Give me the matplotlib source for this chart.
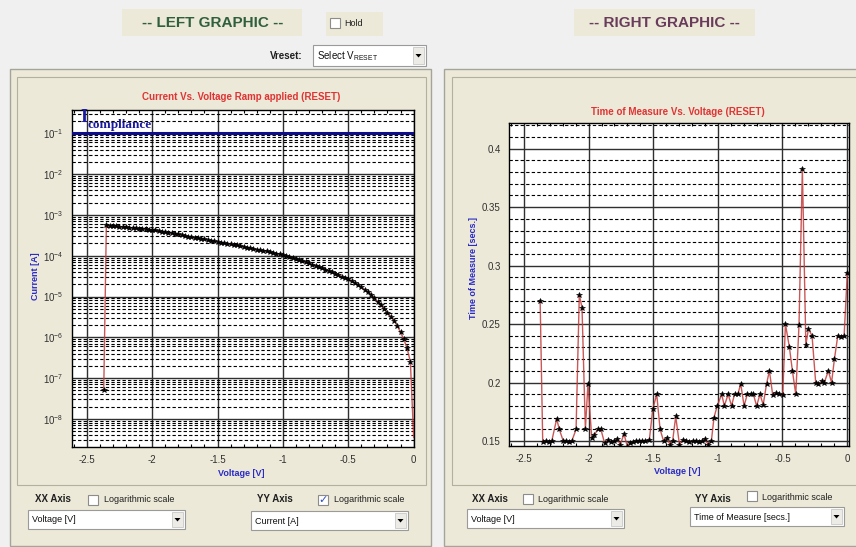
import matplotlib
matplotlib.use('Agg')
import matplotlib.pyplot as plt
from matplotlib.patches import Rectangle, Polygon
from matplotlib.ticker import MultipleLocator, FixedLocator, NullFormatter
import numpy as np

W, H = 856, 547

# --- left graphic: current vs voltage (log y) ---
iv_voltage = [-2.37,
    -2.35, -2.325, -2.3, -2.275, -2.25, -2.225, -2.2, -2.175, -2.15, -2.125, -2.1, -2.075, -2.05, -2.025, -2.0,
    -1.975, -1.95, -1.925, -1.9, -1.875, -1.85, -1.825, -1.8, -1.775, -1.75,
    -1.725, -1.7, -1.675, -1.65, -1.625, -1.6, -1.575, -1.55, -1.525, -1.5,
    -1.475, -1.45, -1.425, -1.4, -1.375, -1.35, -1.325, -1.3, -1.275, -1.25,
    -1.225, -1.2, -1.175, -1.15, -1.125, -1.1, -1.075, -1.05, -1.025, -1.0,
    -0.975, -0.95, -0.925, -0.9, -0.875, -0.85, -0.825, -0.8, -0.775, -0.75,
    -0.725, -0.7, -0.675, -0.65, -0.625, -0.6, -0.575, -0.55, -0.525, -0.5,
    -0.475, -0.45, -0.425, -0.4, -0.375, -0.35, -0.325, -0.3, -0.275, -0.25,
    -0.225, -0.2, -0.175, -0.15, -0.125, -0.1, -0.075, -0.05, -0.025,
    0.0]
iv_log_current = [-7.29,
    -3.26, -3.27, -3.27, -3.28, -3.29, -3.30, -3.30, -3.31, -3.32, -3.33, -3.34, -3.35, -3.35, -3.36, -3.37,
    -3.38, -3.40, -3.41, -3.42, -3.44, -3.45, -3.47, -3.48, -3.50, -3.51,
    -3.53, -3.54, -3.56, -3.57, -3.59, -3.60, -3.62, -3.63, -3.65, -3.66,
    -3.68, -3.69, -3.71, -3.72, -3.74, -3.75, -3.77, -3.78, -3.80, -3.81,
    -3.83, -3.85, -3.86, -3.88, -3.89, -3.91, -3.93, -3.95, -3.96, -3.98,
    -4.00, -4.03, -4.05, -4.08, -4.11, -4.14, -4.16, -4.19, -4.22, -4.25,
    -4.28, -4.31, -4.34, -4.37, -4.40, -4.44, -4.47, -4.51, -4.54, -4.58,
    -4.62, -4.67, -4.72, -4.77, -4.83, -4.89, -4.96, -5.04, -5.13, -5.22,
    -5.31, -5.40, -5.49, -5.59, -5.72, -5.88, -6.05, -6.27, -6.60,
    -8.45]
i_compliance = 1e-1
iv_yticks = [1e-1, 1e-2, 1e-3, 1e-4, 1e-5, 1e-6, 1e-7, 1e-8]
iv_ylabels = [r'$\mathregular{10^{-%d}}$' % k for k in range(1, 9)]

# --- right graphic: time of measure vs voltage ---
tm_voltage = [-2.375, -2.355, -2.33, -2.31, -2.285, -2.247, -2.227, -2.196, -2.175, -2.155,
    -2.13, -2.097, -2.072, -2.051, -2.025, -2.005, -1.976, -1.955, -1.93, -1.905,
    -1.876, -1.85, -1.825, -1.8, -1.778, -1.755, -1.726, -1.7, -1.68, -1.66,
    -1.635, -1.61, -1.585, -1.56, -1.53, -1.504, -1.473, -1.447, -1.42, -1.396,
    -1.37, -1.35, -1.326, -1.297, -1.27, -1.245, -1.22, -1.195, -1.17, -1.145,
    -1.12, -1.1, -1.075, -1.05, -1.03, -1.005, -0.97, -0.95, -0.92, -0.894,
    -0.871, -0.845, -0.823, -0.797, -0.772, -0.746, -0.725, -0.7, -0.674, -0.649,
    -0.623, -0.601, -0.575, -0.549, -0.523, -0.498, -0.477, -0.446, -0.423, -0.397,
    -0.372, -0.346, -0.319, -0.299, -0.271, -0.243, -0.222, -0.197, -0.176, -0.145,
    -0.12, -0.098, -0.072, -0.049, -0.023, 0.002]
tm_seconds = [0.270, 0.149, 0.150, 0.149, 0.150, 0.169, 0.160, 0.150, 0.150, 0.149,
    0.150, 0.160, 0.275, 0.264, 0.160, 0.199, 0.153, 0.155, 0.160, 0.160,
    0.148, 0.151, 0.149, 0.150, 0.152, 0.147, 0.156, 0.145, 0.148, 0.149,
    0.150, 0.150, 0.150, 0.150, 0.151, 0.177, 0.190, 0.160, 0.150, 0.153,
    0.147, 0.150, 0.171, 0.147, 0.151, 0.150, 0.149, 0.150, 0.150, 0.149,
    0.150, 0.152, 0.147, 0.150, 0.170, 0.180, 0.190, 0.180, 0.190, 0.180,
    0.190, 0.190, 0.199, 0.180, 0.190, 0.190, 0.190, 0.180, 0.190, 0.181,
    0.199, 0.210, 0.189, 0.191, 0.190, 0.189, 0.250, 0.230, 0.210, 0.190,
    0.249, 0.383, 0.232, 0.246, 0.240, 0.200, 0.199, 0.201, 0.200, 0.210,
    0.200, 0.220, 0.240, 0.239, 0.240, 0.294]
tm_yticks = [0.15, 0.2, 0.25, 0.3, 0.35, 0.4]

x_ticks = [-2.5, -2, -1.5, -1, -0.5, 0]
x_labels = ['-2.5', '-2', '-1.5', '-1', '-0.5', '0']

FONT = 'Liberation Sans'
plt.rcParams['mathtext.fontset'] = 'custom'
plt.rcParams['mathtext.rm'] = FONT
BEIGE = '#ece9d8'
LINE_RED = '#c23a3a'
LABEL_BLUE = '#2a2ac8'

fig = plt.figure(figsize=(W / 100, H / 100), dpi=100, facecolor='#f0f0f0')


def fx(x):
    return x / W


def fy(y):
    return 1 - y / H


def box(x, y, w, h, fc, ec='none', lw=0.8, z=-5):
    fig.add_artist(Rectangle((fx(x), fy(y + h)), w / W, h / H, transform=fig.transFigure,
                             facecolor=fc, edgecolor=ec, linewidth=lw, zorder=z))


def text(x, y, s, **kw):
    kw.setdefault('family', FONT)
    kw.setdefault('va', 'center')
    fig.text(fx(x), fy(y), s, **kw)


def checkbox(x, y, checked=False):
    box(x, y, 10, 10, 'white', '#8c8c8c', 0.8, z=2)
    if checked:
        text(x + 5, y + 5.5, '\u2713', family='DejaVu Sans', size=8, color='#3050c0',
             ha='center', weight='bold')


def dropdown(x, y, w, h, label, **kw):
    box(x, y, w, h, 'white', '#9a9a9a', 0.8, z=2)
    box(x + w - 13, y + 2, 11, h - 4, '#ecebe6', '#c8c8c8', 0.6, z=3)
    cx, cy = x + w - 7.5, y + h / 2
    fig.add_artist(Polygon([(fx(cx - 3), fy(cy - 1.5)), (fx(cx + 3), fy(cy - 1.5)),
                            (fx(cx), fy(cy + 2))], closed=True, transform=fig.transFigure,
                           facecolor='black', edgecolor='none', zorder=4))
    kw.setdefault('size', 6.5)
    text(x + 4, y + h / 2 + 0.5, label, color='#101010', **kw)


# panels
box(10, 69, 421, 477, BEIGE, '#a4a49a', 1.0)
box(17, 77, 409, 408, 'none', '#b4b0a0', 0.8, z=-4)
box(444, 69, 420, 477, BEIGE, '#a4a49a', 1.0)
box(452, 77, 410, 408, 'none', '#b4b0a0', 0.8, z=-4)

# header
box(122, 9, 180, 27, BEIGE)
text(213, 23, '-- LEFT GRAPHIC --', size=11, weight='bold', color='#2f5f3c', ha='center')
box(326, 12, 57, 24, BEIGE)
checkbox(330, 18)
text(344, 23.5, 'Hold', size=6.5, color='#202020')
box(574, 9, 181, 27, BEIGE)
text(664, 23, '-- RIGHT GRAPHIC --', size=11, weight='bold', color='#6a3c5c', ha='center')
text(303, 56, 'Vreset:', size=7, weight='bold', ha='right', color='#202020')
dropdown(313, 45, 113, 21, r'Select V$_\mathregular{RESET}$', size=7)

# bottom controls
text(35, 499, 'XX Axis', size=7, weight='bold', color='#202020')
checkbox(88, 495)
text(104, 500, 'Logarithmic scale', size=6.5, color='#202020')
dropdown(28, 510, 157, 19, 'Voltage [V]')
text(257, 499, 'YY Axis', size=7, weight='bold', color='#202020')
checkbox(318, 495, checked=True)
text(334, 500, 'Logarithmic scale', size=6.5, color='#202020')
dropdown(251, 511, 157, 19, 'Current [A]')

text(472, 499, 'XX Axis', size=7, weight='bold', color='#202020')
checkbox(523, 494)
text(538, 499, 'Logarithmic scale', size=6.5, color='#202020')
dropdown(467, 509, 157, 19, 'Voltage [V]')
text(695, 499, 'YY Axis', size=7, weight='bold', color='#202020')
checkbox(747, 491)
text(762, 497, 'Logarithmic scale', size=6.5, color='#202020')
dropdown(690, 507, 154, 19, 'Time of Measure [secs.]')


def style_axes(ax):
    ax.set_facecolor('white')
    for s in ax.spines.values():
        s.set_color('black')
        s.set_linewidth(1.0)
    ax.set_axisbelow(True)
    ax.set_xticks(x_ticks)
    ax.set_xticklabels(x_labels)
    ax.xaxis.set_minor_locator(MultipleLocator(0.1))
    ax.tick_params(which='major', length=0, labelsize=7, labelcolor='#303030', pad=6)
    ax.tick_params(axis='x', which='minor', direction='in', top=True, bottom=True, length=2.5,
                   width=0.8, color='black')
    ax.tick_params(axis='y', which='minor', length=0)
    for lab in ax.get_xticklabels() + ax.get_yticklabels():
        lab.set_family(FONT)
    ax.grid(True, axis='x', which='major', color='#303030', lw=1.0, ls='-')
    ax.grid(True, axis='y', which='major', color='#303030', lw=1.0, ls='-')
    ax.grid(True, axis='y', which='minor', color='black', lw=0.8, ls=(0, (3, 2)))


# left axes
ax1 = fig.add_axes([fx(71.7), fy(446.7), (414.3 - 71.7) / W, (446.7 - 110) / H])
iv_current = 10 ** np.array(iv_log_current)
ax1.set_yscale('log')
ax1.set_xlim(-2.615, 0.005)
ax1.plot(iv_voltage, iv_current, color=LINE_RED, lw=1.0, alpha=0.85, zorder=3)
ax1.plot(iv_voltage[:-1], iv_current[:-1], ls='none', marker='*', ms=3.8, color='black',
         mec='black', mew=0.4, zorder=4)
ax1.axhline(i_compliance, color='#0c0c8c', lw=2.2, zorder=5)
ax1.yaxis.set_major_locator(FixedLocator(iv_yticks))
ax1.set_yticklabels(iv_ylabels)
minor = [m * 10.0 ** e for e in range(-9, 0) for m in range(2, 10)]
ax1.yaxis.set_minor_locator(FixedLocator(minor))
ax1.yaxis.set_minor_formatter(NullFormatter())
style_axes(ax1)
ax1.set_ylim(10 ** -8.68, 10 ** -0.43)
text(80, 117, 'I', family='Liberation Serif', size=13, weight='bold', color='#1a1a9c')
text(87, 125, 'compliance', family='Liberation Serif', size=9.5, weight='bold', color='#1a1a9c')
text(241, 97, 'Current Vs. Voltage Ramp applied (RESET)', size=7, weight='bold',
     color='#e03434', ha='center')
text(241, 473, 'Voltage [V]', size=6.5, weight='bold', color=LABEL_BLUE, ha='center')
text(36, 276, 'Current [A]', size=6.5, weight='bold', color=LABEL_BLUE, ha='center',
     rotation=90)

# right axes
ax2 = fig.add_axes([fx(509), fy(445.7), (848.5 - 509) / W, (445.7 - 123.3) / H])
ax2.set_xlim(-2.616, 0.011)
ax2.set_ylim(0.146, 0.4217)
ax2.plot(tm_voltage, tm_seconds, color=LINE_RED, lw=1.0, alpha=0.85, zorder=3)
ax2.plot(tm_voltage, tm_seconds, ls='none', marker='*', ms=3.8, color='black',
         mec='black', mew=0.4, zorder=4)
ax2.set_yticks(tm_yticks)
ax2.set_yticklabels(['%g' % v for v in tm_yticks])
ax2.yaxis.set_minor_locator(MultipleLocator(0.01))
style_axes(ax2)
text(678, 112, 'Time of Measure Vs. Voltage (RESET)', size=7, weight='bold',
     color='#e03434', ha='center')
text(677, 472, 'Voltage [V]', size=6.5, weight='bold', color=LABEL_BLUE, ha='center')
text(473, 268, 'Time of Measure [secs.]', size=6.5, weight='bold', color=LABEL_BLUE,
     ha='center', rotation=90)

fig.savefig('out.png', dpi=100, facecolor=fig.get_facecolor())
